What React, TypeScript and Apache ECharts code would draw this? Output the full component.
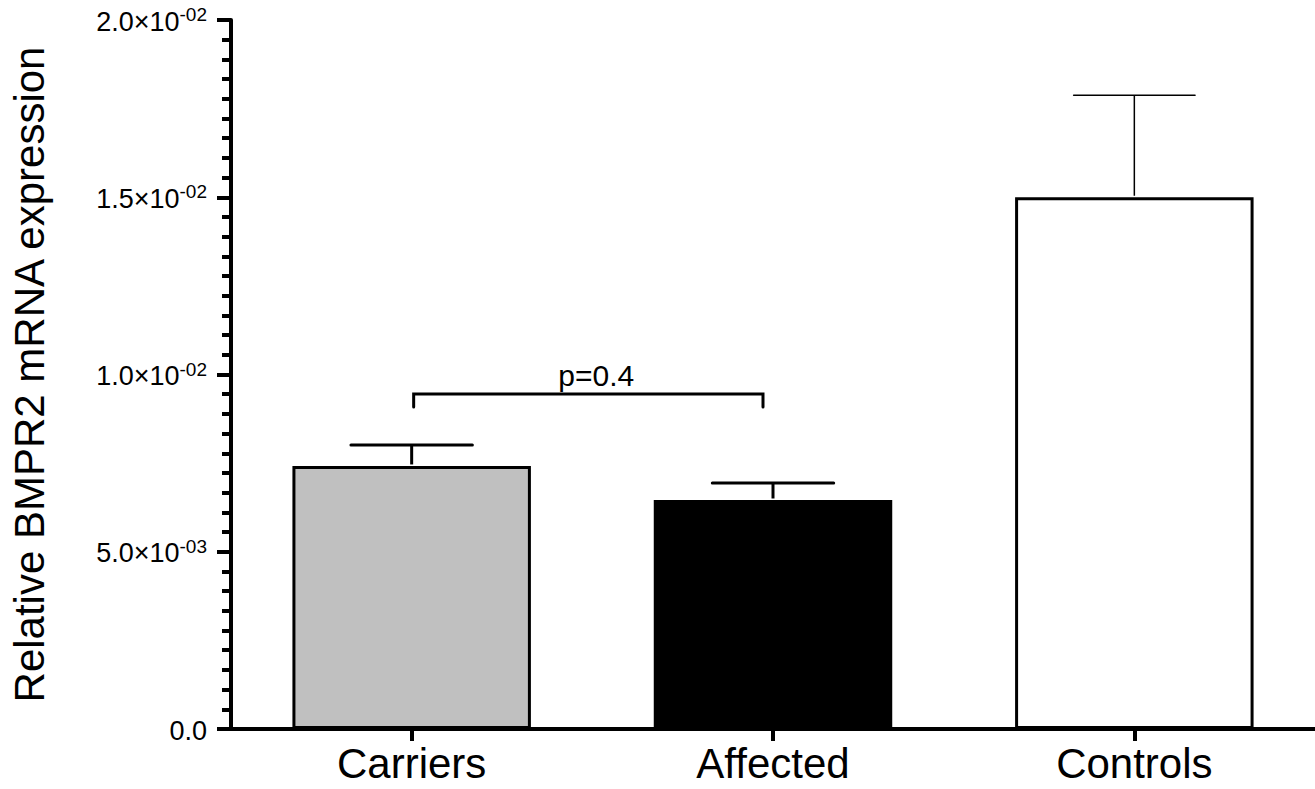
import React, { useEffect, useRef } from "react";
import * as echarts from "echarts";

const categories = ["Carriers", "Affected", "Controls"];
const means = [0.00742, 0.00646, 0.015];
const errTops = [0.00801, 0.00694, 0.01788];
const barColors = ["#c0c0c0", "#000000", "#ffffff"];
const errWidths = [3, 3, 1.5];
const bracket = { from: 0, to: 1, y: 0.00945, label: "p=0.4" };
const yTicks = [0, 0.005, 0.01, 0.015, 0.02];

const FF = "Liberation Sans, Arial, sans-serif";

function fmt(v: number): string {
  if (Math.abs(v) < 1e-12) return "{m|0.0}";
  const e = Math.floor(Math.log10(v) + 1e-9);
  const m = v / Math.pow(10, e);
  const es = (e < 0 ? "-" : "+") + String(Math.abs(e)).padStart(2, "0");
  return "{m|" + m.toFixed(1) + "×10}{e|" + es + "}";
}

export default function App() {
  const ref = useRef<HTMLDivElement>(null);
  useEffect(() => {
    const chart = echarts.init(ref.current!, null, { renderer: "svg" });
    chart.setOption({
      animation: false,
      grid: { left: 231, right: 0, top: 20, bottom: 60, containLabel: false },
      xAxis: {
        type: "category",
        data: categories,
        axisLine: { lineStyle: { color: "#000", width: 4 } },
        axisTick: { show: true, alignWithLabel: true, length: 12, lineStyle: { color: "#000", width: 4 } },
        axisLabel: {
          color: "#000",
          fontSize: 42,
          fontFamily: FF,
          margin: 13,
        },
      },
      yAxis: {
        type: "value",
        min: yTicks[0],
        max: yTicks[yTicks.length - 1],
        interval: 0.005,
        name: "Relative BMPR2 mRNA expression",
        nameLocation: "middle",
        nameGap: 181,
        nameRotate: 90,
        nameTextStyle: {
          color: "#000",
          fontSize: 42,
          fontFamily: FF,
        },
        axisLine: { show: true, lineStyle: { color: "#000", width: 4 } },
        axisTick: { show: true, length: 14, lineStyle: { color: "#000", width: 4 } },
        minorTick: { show: true, splitNumber: 9, length: 9, lineStyle: { color: "#000", width: 4 } },
        splitLine: { show: false },
        axisLabel: {
          color: "#000",
          margin: 24,
          fontSize: 27,
          fontFamily: FF,
          formatter: (v: number) => fmt(v),
          rich: {
            m: { fontSize: 27, color: "#000", fontFamily: FF, lineHeight: 30, verticalAlign: "bottom" },
            e: { fontSize: 19, color: "#000", fontFamily: FF, lineHeight: 30, verticalAlign: "top", padding: [0, 0, 18, 0] },
          },
        },
      },
      series: [
        {
          type: "bar",
          barWidth: "66%",
          data: means.map((v, i) => ({
            value: v,
            itemStyle: { color: barColors[i], borderColor: "#000", borderWidth: 3 },
          })),
          z: 2,
        },
        {
          type: "custom",
          z: 3,
          data: means.map((m, i) => [i, m, errTops[i], errWidths[i]]),
          renderItem: (params: any, api: any) => {
            const i = api.value(0);
            const p0 = api.coord([i, api.value(1)]);
            const p1 = api.coord([i, api.value(2)]);
            const w = api.value(3);
            const half = api.size([1, 0])[0] * 0.168;
            const style = { stroke: "#000", lineWidth: w };
            return {
              type: "group",
              children: [
                { type: "line", shape: { x1: p0[0], y1: p0[1] - 1.5, x2: p1[0], y2: p1[1] }, style },
                { type: "line", shape: { x1: p1[0] - half, y1: p1[1], x2: p1[0] + half, y2: p1[1] }, style: { ...style, lineCap: "round" } },
              ],
            };
          },
        },
        {
          type: "custom",
          z: 3,
          data: [[bracket.from, bracket.to, bracket.y]],
          renderItem: (params: any, api: any) => {
            const a = api.coord([api.value(0), api.value(2)]);
            const b = api.coord([api.value(1), api.value(2)]);
            const style = { stroke: "#000", lineWidth: 3, lineCap: "round", lineJoin: "miter", fill: null };
            return {
              type: "group",
              children: [
                {
                  type: "polyline",
                  shape: { points: [[a[0] + 2, a[1] + 13], [a[0] + 2, a[1]], [b[0] - 10, b[1]], [b[0] - 10, b[1] + 13]] },
                  style,
                },
                {
                  type: "text",
                  style: {
                    text: bracket.label,
                    x: (a[0] + b[0]) / 2 + 4,
                    y: a[1] - 3,
                    textAlign: "center",
                    textVerticalAlign: "bottom",
                    fontSize: 30,
                    fontFamily: FF,
                    fill: "#000",
                  },
                },
              ],
            };
          },
        },
      ],
    });
    return () => chart.dispose();
  }, []);
  return <div ref={ref} style={{ width: 1315, height: 789, position: "absolute", left: 0, top: 0 }} />;
}
